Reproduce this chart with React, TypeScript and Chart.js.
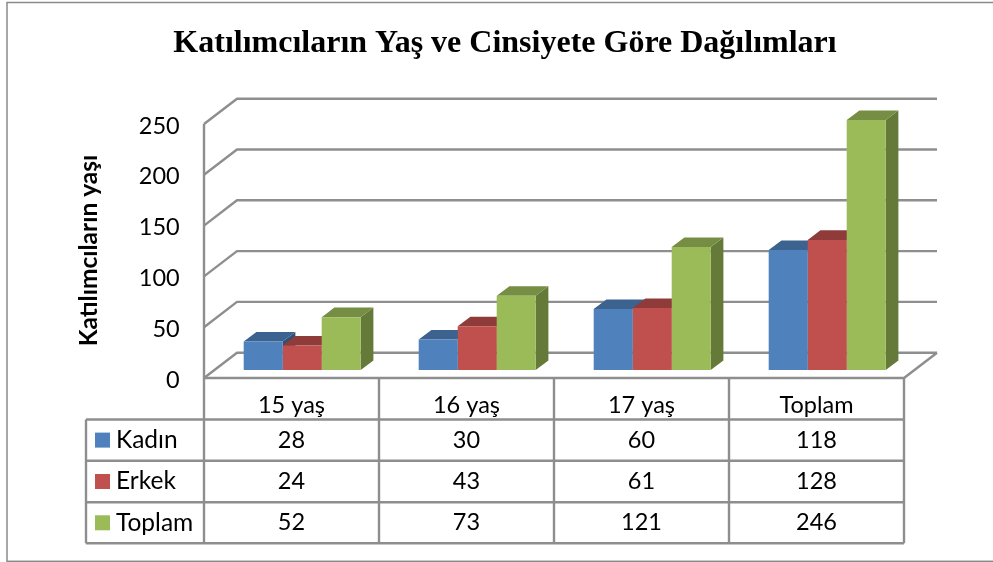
import React, { useEffect, useRef } from "react";
import { Chart, registerables } from "chart.js";

Chart.register(...registerables);

const chartTitle = "Katılımcıların Yaş ve Cinsiyete Göre Dağılımları";
const yAxisTitle = "Katılımcıların yaşı";
const categories = ["15 yaş", "16 yaş", "17 yaş", "Toplam"];
const kadin = [28, 30, 60, 118];
const erkek = [24, 43, 61, 128];
const toplam = [52, 73, 121, 246];
const yTickStep = 50;
const yMax = 250;

const COLORS = {
  front: ["#4F81BD", "#C0504D", "#9BBB59"],
  top: ["#3C6390", "#8F3B39", "#758E43"],
  side: ["#334F73", "#72302E", "#657A38"],
};
const LINE = "#8E8E8E";
const FONT = "Lato, 'Open Sans', sans-serif";

// 3D geometry, relative to the plane the bars stand on
const FRONT_DX = -10.7, FRONT_DY = 8;
const BACK_DX = 22.3, BACK_DY = -17.3;
const BAR_DX = 12.7, BAR_DY = -9.6;
const ROW_Y = [419.5, 460.7, 502.3, 543.3];
const TABLE_LEFT = 86;

const box3d = {
  id: "box3d",
  beforeDraw(chart: any) {
    const { ctx, width, height } = chart;
    ctx.save();
    ctx.strokeStyle = "#8A8A8A";
    ctx.lineWidth = 1.5;
    ctx.strokeRect(7, 2.5, width + 10, height - 3.2);
    ctx.restore();
  },
  beforeDatasetsDraw(chart: any) {
    const { ctx, scales } = chart;
    const y = scales.y, x = scales.x;
    const l = x.left, r = x.right;
    ctx.save();
    ctx.strokeStyle = LINE;
    ctx.lineWidth = 2.4;
    ctx.lineJoin = "round";
    y.ticks.forEach((t: any) => {
      const py = y.getPixelForValue(t.value);
      ctx.beginPath();
      ctx.moveTo(l + FRONT_DX, py + FRONT_DY);
      ctx.lineTo(l + BACK_DX, py + BACK_DY);
      ctx.lineTo(r + BACK_DX, py + BACK_DY);
      ctx.stroke();
    });
    const p0 = y.getPixelForValue(0);
    const pm = y.getPixelForValue(yMax);
    ctx.beginPath();
    ctx.moveTo(l + FRONT_DX, pm + FRONT_DY);
    ctx.lineTo(l + FRONT_DX, p0 + FRONT_DY);
    ctx.lineTo(r + FRONT_DX, p0 + FRONT_DY);
    ctx.lineTo(r + BACK_DX, p0 + BACK_DY);
    ctx.stroke();

    chart.data.datasets.forEach((_: any, di: number) => {
      chart.getDatasetMeta(di).data.forEach((bar: any) => {
        const { x: cx, y: top, width: w, base } = bar.getProps(["x", "y", "width", "base"], true);
        const a = cx - w / 2, b = cx + w / 2;
        ctx.fillStyle = COLORS.side[di];
        ctx.beginPath();
        ctx.moveTo(b, top);
        ctx.lineTo(b + BAR_DX, top + BAR_DY);
        ctx.lineTo(b + BAR_DX, base + BAR_DY);
        ctx.lineTo(b, base);
        ctx.closePath();
        ctx.fill();
        ctx.fillStyle = COLORS.top[di];
        ctx.beginPath();
        ctx.moveTo(a, top);
        ctx.lineTo(a + BAR_DX, top + BAR_DY);
        ctx.lineTo(b + BAR_DX, top + BAR_DY);
        ctx.lineTo(b, top);
        ctx.closePath();
        ctx.fill();
      });
    });
    ctx.restore();
  },
  afterDraw(chart: any) {
    const { ctx, scales } = chart;
    const x = scales.x;
    const p0 = scales.y.getPixelForValue(0) + FRONT_DY;
    const left = x.left + FRONT_DX;
    const cw = x.width / categories.length;
    ctx.save();
    ctx.strokeStyle = LINE;
    ctx.lineWidth = 2.4;
    // grid of the table
    ROW_Y.forEach((ry) => {
      ctx.beginPath();
      ctx.moveTo(TABLE_LEFT, ry);
      ctx.lineTo(left + cw * categories.length, ry);
      ctx.stroke();
    });
    for (let i = 0; i <= categories.length; i++) {
      ctx.beginPath();
      ctx.moveTo(left + cw * i, p0);
      ctx.lineTo(left + cw * i, ROW_Y[ROW_Y.length - 1]);
      ctx.stroke();
    }
    ctx.beginPath();
    ctx.moveTo(TABLE_LEFT, ROW_Y[0]);
    ctx.lineTo(TABLE_LEFT, ROW_Y[ROW_Y.length - 1]);
    ctx.stroke();
    // contents
    ctx.textBaseline = "middle";
    chart.data.datasets.forEach((ds: any, di: number) => {
      const cy = (ROW_Y[di] + ROW_Y[di + 1]) / 2;
      ctx.fillStyle = COLORS.front[di];
      ctx.fillRect(95, cy - 7.5, 15, 15);
      ctx.fillStyle = "#000";
      ctx.textAlign = "left";
      ctx.font = `24.5px ${FONT}`;
      ctx.fillText(ds.label, 116, cy);
      ctx.textAlign = "center";
      ctx.font = `23.5px ${FONT}`;
      ds.data.forEach((v: number, i: number) => {
        ctx.fillText(String(v), left + cw * (i + 0.5), cy);
      });
    });
    // rotated value-axis title
    ctx.translate(89, 250.5);
    ctx.rotate(-Math.PI / 2);
    ctx.font = `bold 24.5px ${FONT}`;
    ctx.textAlign = "center";
    ctx.fillStyle = "#000";
    ctx.fillText(yAxisTitle, 0, 0);
    ctx.restore();
  },
};

export default function App() {
  const ref = useRef<HTMLCanvasElement | null>(null);
  useEffect(() => {
    const chart = new Chart(ref.current as HTMLCanvasElement, {
      type: "bar",
      plugins: [box3d],
      data: {
        labels: categories,
        datasets: [
          { label: "Kadın", data: kadin, backgroundColor: COLORS.front[0] },
          { label: "Erkek", data: erkek, backgroundColor: COLORS.front[1] },
          { label: "Toplam", data: toplam, backgroundColor: COLORS.front[2] },
        ],
      },
      options: {
        responsive: false,
        animation: false,
        layout: { padding: { left: 95.3, right: 78.3, top: 0, bottom: 0 } },
        datasets: { bar: { categoryPercentage: 0.6686, barPercentage: 1 } },
        plugins: {
          legend: { display: false },
          tooltip: { enabled: false },
          title: {
            display: true,
            text: chartTitle,
            color: "#000",
            font: { family: "'Liberation Serif', serif", size: 32, weight: "bold" },
            padding: { top: 25, bottom: 52.6 },
          },
        },
        scales: {
          x: {
            grid: { display: false, drawTicks: false },
            border: { display: false },
            afterFit: (s: any) => { s.height = 192; },
            ticks: {
              color: "#000",
              font: { family: FONT, size: 23.5 },
              padding: 21,
              labelOffset: FRONT_DX,
              maxRotation: 0,
            },
          },
          y: {
            min: 0,
            max: yMax,
            grid: { display: false, drawTicks: false },
            border: { display: false },
            afterFit: (s: any) => { s.width = 119.4; },
            ticks: {
              stepSize: yTickStep,
              color: "#000",
              font: { family: FONT, size: 23.5 },
              padding: 35,
              labelOffset: 10,
            },
          },
        },
      } as any,
    });
    return () => chart.destroy();
  }, []);
  return (
    <div style={{ position: "absolute", left: 0, top: 0, width: 993, height: 562, overflow: "hidden", background: "#fff" }}>
      <canvas ref={ref} width={993} height={562} style={{ display: "block" }} />
    </div>
  );
}
